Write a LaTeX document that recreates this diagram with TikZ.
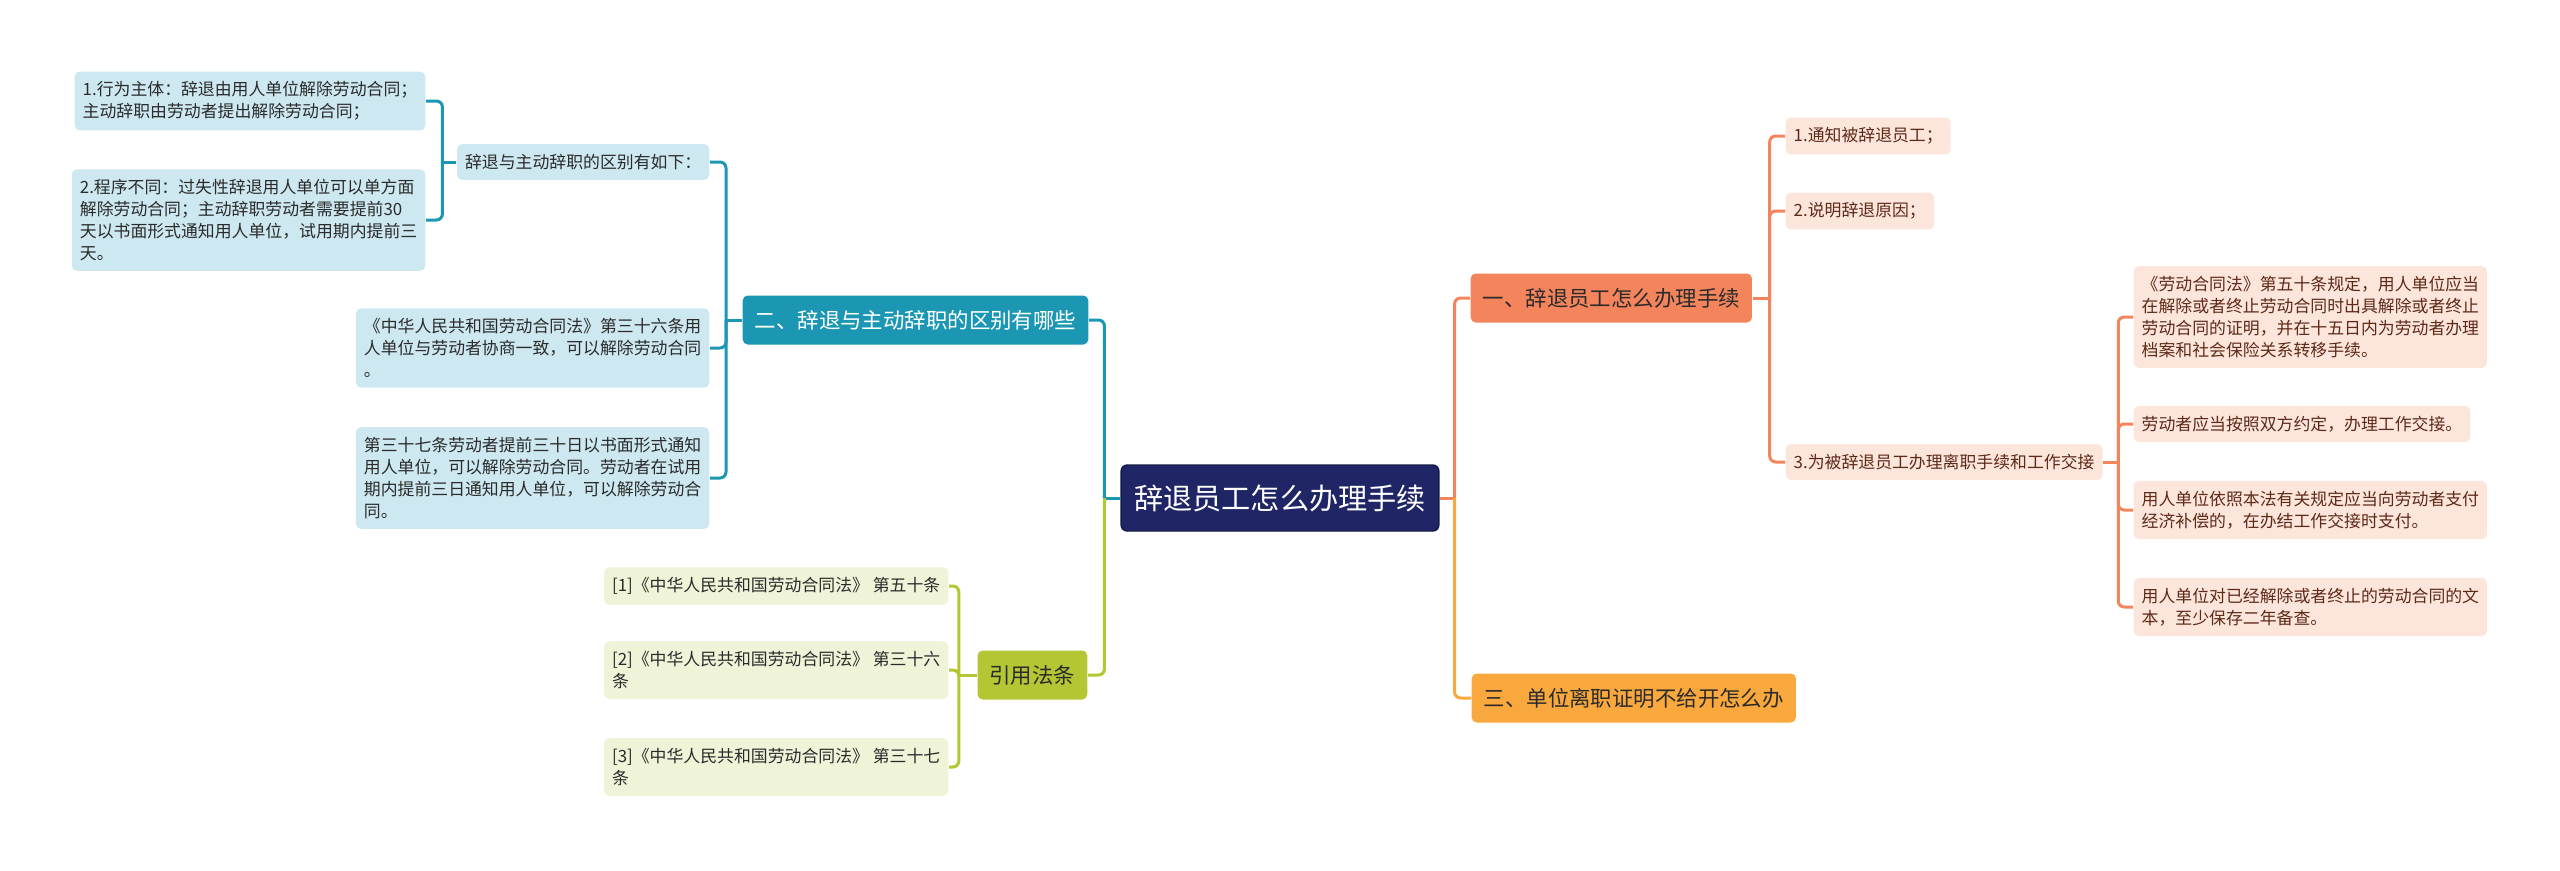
\documentclass[tikz,border=0pt]{standalone}
\usepackage{fontspec}
\setmainfont{Noto Sans CJK SC}
\definecolor{rootnavy}{HTML}{1F2565}
\definecolor{quitcoral}{HTML}{F3845C}
\definecolor{quitleaf}{HTML}{FCE5DB}
\definecolor{quittext}{HTML}{5E2A18}
\definecolor{certamber}{HTML}{F8A83C}
\definecolor{diffteal}{HTML}{1B97B3}
\definecolor{diffleaf}{HTML}{CDE8F0}
\definecolor{lawolive}{HTML}{B4C634}
\definecolor{lawleaf}{HTML}{EFF3D8}
\definecolor{darktext}{HTML}{2B2B2B}
\begin{document}
\begin{tikzpicture}[
   x=0.1mm,y=-0.1mm,
   rootbox/.style={fill=rootnavy,draw=rootnavy!70!black,text=white,rounded corners=0.6mm,
     inner xsep=1.3mm,minimum height=6.6mm,font=\fontsize{8.3pt}{10pt}\selectfont},
   topicbox/.style={rounded corners=0.5mm,inner xsep=1.2mm,minimum height=4.9mm,
     font=\fontsize{6.1pt}{7.5pt}\selectfont},
   leafbox/.style={rounded corners=0.5mm,inner xsep=0.8mm,inner ysep=1mm,align=left,
     font=\fontsize{4.8pt}{6.25pt}\selectfont},
   quitleafbox/.style={leafbox,fill=quitleaf,text=quittext,anchor=west},
   diffleafbox/.style={leafbox,fill=diffleaf,text=darktext,anchor=east},
   lawleafbox/.style={leafbox,fill=lawleaf,text=darktext,anchor=east},
   link/.style={line width=0.3mm,rounded corners=0.6mm}
 ]
 \useasboundingbox (0,0) rectangle (2560,871);
 % centre
 \node[rootbox] (root) at (1280,498) {辞退员工怎么办理手续};

 % right half
 \node[topicbox,fill=quitcoral,text=darktext,anchor=west] (quit) at (1470,298)
   {一、辞退员工怎么办理手续};
 \node[topicbox,fill=certamber,text=darktext,anchor=west] (cert) at (1471,698)
   {三、单位离职证明不给开怎么办};
 \node[quitleafbox] (notify) at (1785,136) {1.通知被辞退员工；};
 \node[quitleafbox] (reason) at (1785,211) {2.说明辞退原因；};
 \node[quitleafbox] (handover) at (1785,462) {3.为被辞退员工办理离职手续和工作交接};
 \node[quitleafbox] (artfifty) at (2133,317)
   {《劳动合同法》第五十条规定，用人单位应当\\在解除或者终止劳动合同时出具解除或者终止\\劳动合同的证明，并在十五日内为劳动者办理\\档案和社会保险关系转移手续。};
 \node[quitleafbox] (agree) at (2133,424) {劳动者应当按照双方约定，办理工作交接。};
 \node[quitleafbox] (compensate) at (2133,510)
   {用人单位依照本法有关规定应当向劳动者支付\\经济补偿的，在办结工作交接时支付。};
 \node[quitleafbox] (archive) at (2133,607)
   {用人单位对已经解除或者终止的劳动合同的文\\本，至少保存二年备查。};

 % left half
 \node[topicbox,fill=diffteal,text=white,anchor=east] (diff) at (1089,320)
   {二、辞退与主动辞职的区别有哪些};
 \node[topicbox,fill=lawolive,text=darktext,anchor=east] (law) at (1088,675) {引用法条};
 \node[diffleafbox] (diffsum) at (710,162) {辞退与主动辞职的区别有如下：};
 \node[diffleafbox] (subject) at (426,101)
   {1.行为主体：辞退由用人单位解除劳动合同；\\主动辞职由劳动者提出解除劳动合同；};
 \node[diffleafbox] (procedure) at (426,220)
   {2.程序不同：过失性辞退用人单位可以单方面\\解除劳动合同；主动辞职劳动者需要提前30\\天以书面形式通知用人单位，试用期内提前三\\天。};
 \node[diffleafbox] (artsix) at (710,348)
   {《中华人民共和国劳动合同法》第三十六条用\\人单位与劳动者协商一致，可以解除劳动合同\\。};
 \node[diffleafbox] (artseven) at (710,478)
   {第三十七条劳动者提前三十日以书面形式通知\\用人单位，可以解除劳动合同。劳动者在试用\\期内提前三日通知用人单位，可以解除劳动合\\同。};
 \node[lawleafbox] (refone) at (949,586) {[1]《中华人民共和国劳动合同法》 第五十条};
 \node[lawleafbox] (reftwo) at (949,670) {[2]《中华人民共和国劳动合同法》 第三十六\\条};
 \node[lawleafbox] (refthree) at (949,767) {[3]《中华人民共和国劳动合同法》 第三十七\\条};

 % connectors
 \draw[link,quitcoral] (root.east) -- ++(15,0) coordinate (rj);
 \draw[link,quitcoral] (rj) |- (quit.west);
 \draw[link,certamber] (rj) |- (cert.west);
 \draw[link,quitcoral] (quit.east) -- ++(17,0) coordinate (qj);
 \foreach \to in {notify,reason,handover}
   \draw[link,quitcoral] (qj) |- (\to.west);
 \draw[link,quitcoral] (handover.east) -- ++(15,0) coordinate (hj);
 \foreach \to in {artfifty,agree,compensate,archive}
   \draw[link,quitcoral] (hj) |- (\to.west);

 \draw[link,diffteal] (root.west) -- ++(-16,0) coordinate (lj);
 \draw[link,diffteal] (lj) |- (diff.east);
 \draw[link,lawolive] (lj) |- (law.east);
 \draw[link,diffteal] (diff.west) -- ++(-16,0) coordinate (dj);
 \foreach \to in {diffsum,artsix,artseven}
   \draw[link,diffteal] (dj) |- (\to.east);
 \draw[link,diffteal] (diffsum.west) -- ++(-14,0) coordinate (sj);
 \foreach \to in {subject,procedure}
   \draw[link,diffteal] (sj) |- (\to.east);
 \draw[link,lawolive] (law.west) -- ++(-18,0) coordinate (wj);
 \foreach \to in {refone,reftwo,refthree}
   \draw[link,lawolive] (wj) |- (\to.east);
\end{tikzpicture}
\end{document}
